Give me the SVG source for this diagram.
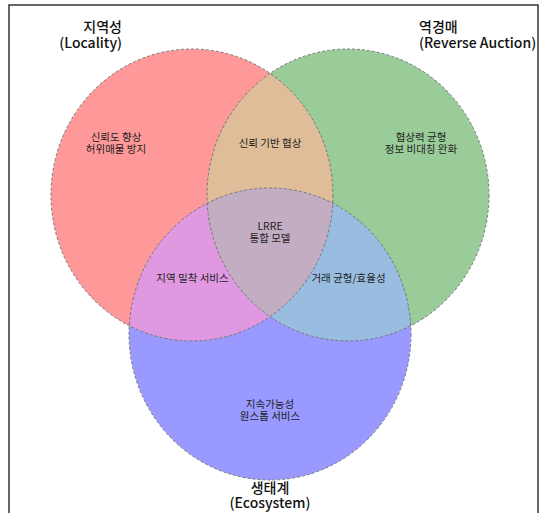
<svg xmlns="http://www.w3.org/2000/svg" width="540" height="513" viewBox="0 0 540 513">
<style>
  .title { font-family: "Noto Sans CJK KR", "Liberation Sans", sans-serif; font-size: 14px; font-weight: 500; fill: #111; }
  .lbl { font-family: "Noto Sans CJK KR", "Liberation Sans", sans-serif; font-size: 10.5px; fill: #222; text-anchor: middle; }
  .outline { fill: none; stroke: #777; stroke-width: 1; stroke-dasharray: 3 2; }
</style>
<defs>
  <clipPath id="clipR"><ellipse cx="192" cy="195" rx="141" ry="146"/></clipPath>
  <clipPath id="clipG"><ellipse cx="348" cy="195" rx="141" ry="146"/></clipPath>
</defs>
<rect x="0" y="0" width="540" height="513" fill="#ffffff"/>
<rect x="9" y="5" width="529" height="530" fill="none" stroke="#333" stroke-width="1.5"/>

<g id="set-locality">
  <ellipse cx="192" cy="195" rx="141" ry="146" fill="#ff9999"/>
</g>
<g id="set-reverse-auction">
  <ellipse cx="348" cy="195" rx="141" ry="146" fill="#99cc99"/>
</g>
<g id="set-ecosystem">
  <ellipse cx="270" cy="334" rx="141" ry="146" fill="#9999ff"/>
</g>
<g id="region-locality-auction">
  <ellipse cx="348" cy="195" rx="141" ry="146" fill="#e0bd99" clip-path="url(#clipR)"/>
</g>
<g id="region-locality-ecosystem">
  <ellipse cx="270" cy="334" rx="141" ry="146" fill="#e099e0" clip-path="url(#clipR)"/>
</g>
<g id="region-auction-ecosystem">
  <ellipse cx="270" cy="334" rx="141" ry="146" fill="#99bde0" clip-path="url(#clipG)"/>
</g>
<g id="region-center" clip-path="url(#clipR)">
  <ellipse cx="270" cy="334" rx="141" ry="146" fill="#c2adc2" clip-path="url(#clipG)"/>
</g>

<g id="outlines">
  <ellipse class="outline" cx="192" cy="195" rx="141" ry="146"/>
  <ellipse class="outline" cx="348" cy="195" rx="141" ry="146"/>
  <ellipse class="outline" cx="270" cy="334" rx="141" ry="146"/>
</g>

<g id="title-locality">
  <text class="title" x="122" y="32" text-anchor="end">지역성</text>
  <text class="title" x="122" y="48" text-anchor="end">(Locality)</text>
</g>
<g id="title-auction">
  <text class="title" x="419" y="32">역경매</text>
  <text class="title" x="419" y="48">(Reverse Auction)</text>
</g>
<g id="title-ecosystem">
  <text class="title" x="270" y="493" text-anchor="middle">생태계</text>
  <text class="title" x="270" y="508" text-anchor="middle">(Ecosystem)</text>
</g>

<g id="label-locality">
  <text class="lbl" x="116" y="141">신뢰도 향상</text>
  <text class="lbl" x="116" y="153">허위매물 방지</text>
</g>
<g id="label-auction">
  <text class="lbl" x="421" y="141">협상력 균형</text>
  <text class="lbl" x="421" y="153">정보 비대칭 완화</text>
</g>
<g id="label-loc-auc">
  <text class="lbl" x="270" y="147">신뢰 기반 협상</text>
</g>
<g id="label-center">
  <text class="lbl" x="270" y="230">LRRE</text>
  <text class="lbl" x="270" y="242">통합 모델</text>
</g>
<g id="label-loc-eco">
  <text class="lbl" x="192.5" y="282">지역 밀착 서비스</text>
</g>
<g id="label-auc-eco">
  <text class="lbl" x="348.5" y="282">거래 균형/효율성</text>
</g>
<g id="label-ecosystem">
  <text class="lbl" x="270" y="408">지속가능성</text>
  <text class="lbl" x="270" y="420">원스톱 서비스</text>
</g>
</svg>
